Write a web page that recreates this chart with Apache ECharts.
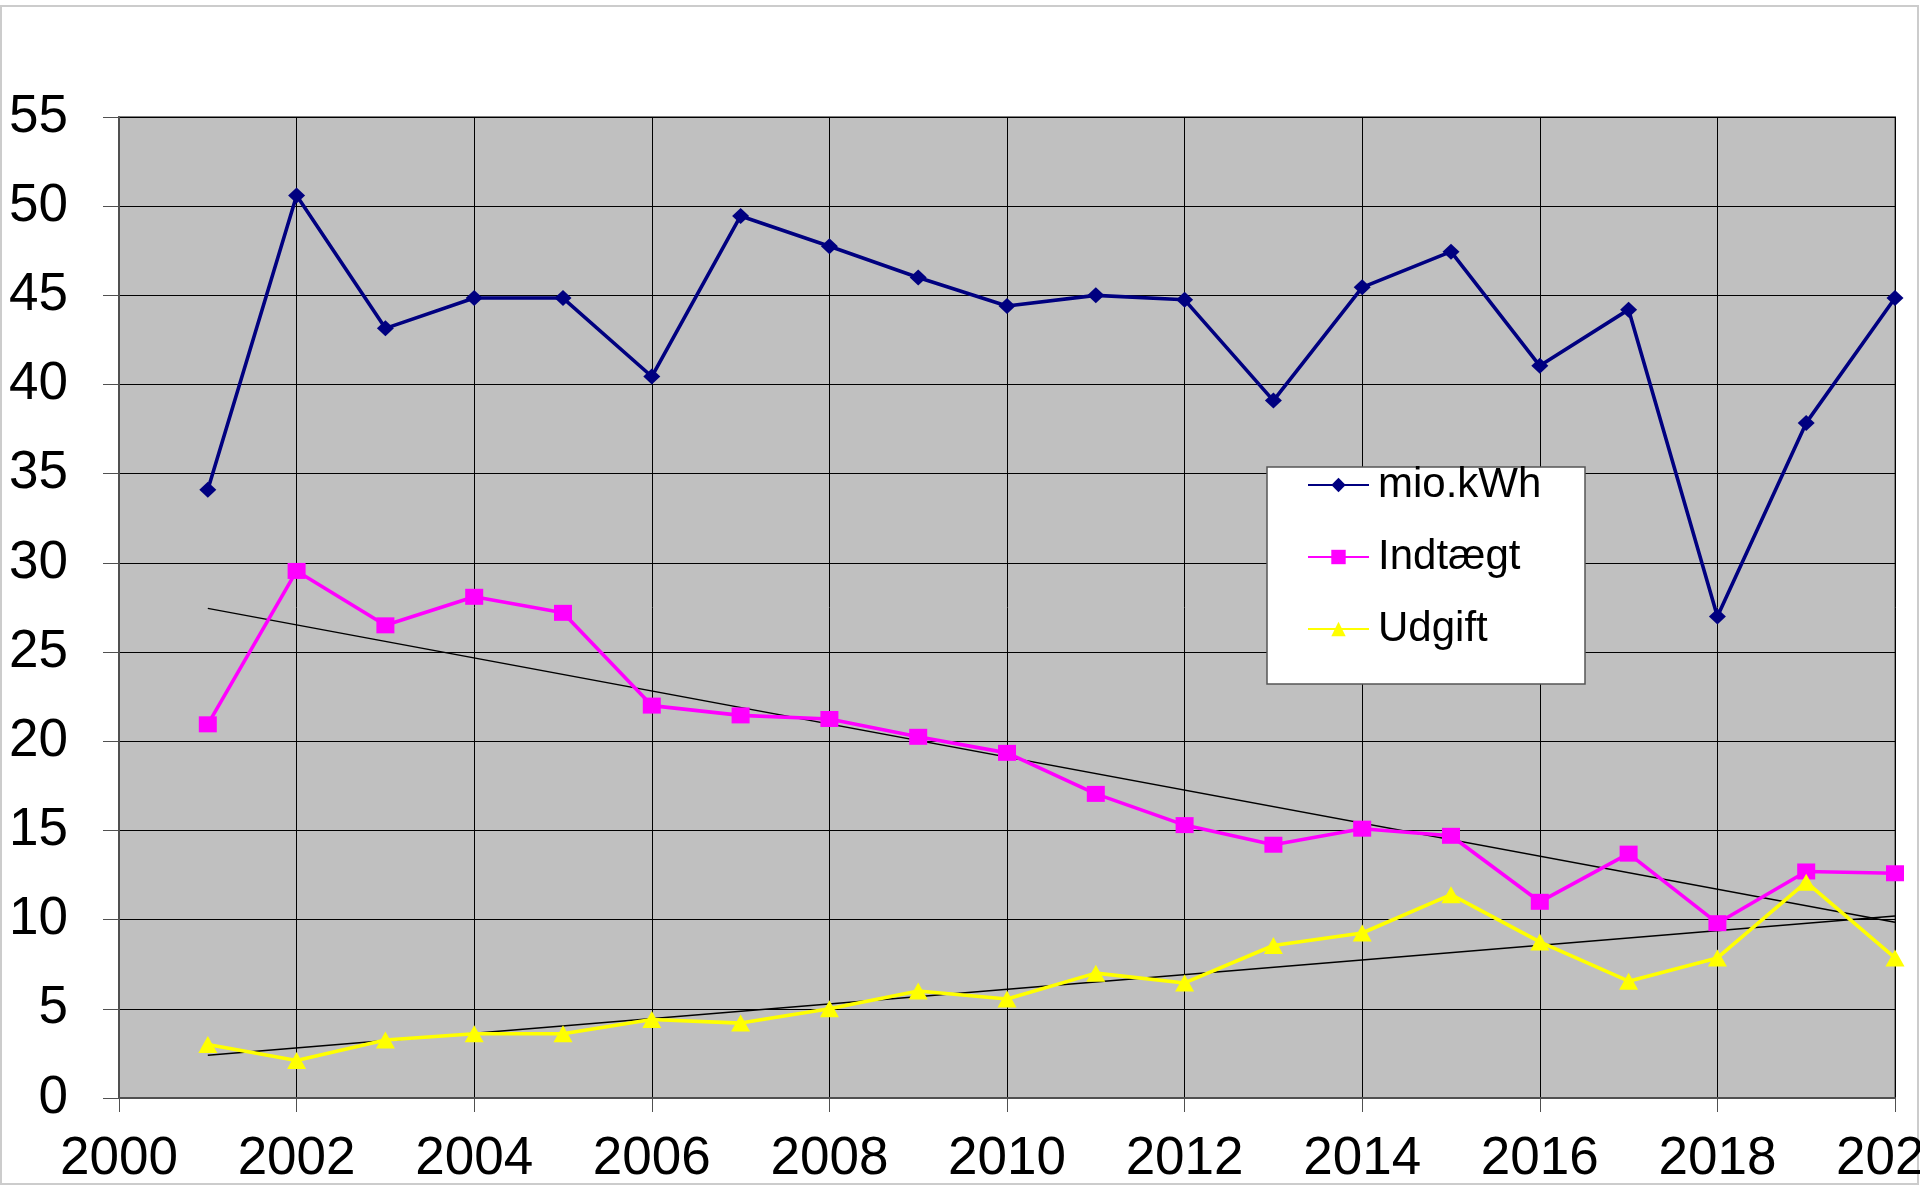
<!DOCTYPE html>
<html>
<head>
<meta charset="utf-8">
<script src="https://cdn.jsdelivr.net/npm/echarts@6/dist/echarts.min.js"></script>
<style>
html,body{margin:0;padding:0;background:#fff;}
#main{width:1920px;height:1187px;}
</style>
</head>
<body>
<div id="main"></div>
<script>
const years = [2001,2002,2003,2004,2005,2006,2007,2008,2009,2010,2011,2012,2013,2014,2015,2016,2017,2018,2019,2020];
const kwh = [34.1,50.6,43.15,44.85,44.85,40.45,49.45,47.75,46.0,44.4,45.0,44.75,39.1,45.45,47.45,41.05,44.2,27.0,37.85,44.85];
const indtaegt = [20.95,29.55,26.5,28.1,27.2,22.0,21.45,21.25,20.25,19.35,17.05,15.3,14.2,15.1,14.7,11.0,13.7,9.8,12.7,12.6];
const udgift = [3.0,2.1,3.25,3.6,3.6,4.4,4.2,5.0,6.0,5.55,7.0,6.45,8.55,9.25,11.4,8.75,6.55,7.85,12.1,7.85];
const trendYears = [2001, 2020];
const trendIndtaegt = [27.45, 9.85];
const trendUdgift = [2.4, 10.2];
const seriesNames = ['mio.kWh', 'Indtægt', 'Udgift'];

const pair = (xs, ys) => xs.map((x, i) => [x, ys[i]]);
const FONT = '"Liberation Sans", Arial, sans-serif';

const chart = echarts.init(document.getElementById('main'), null, {renderer: 'canvas'});
chart.setOption({
  animation: false,
  backgroundColor: '#ffffff',
  textStyle: {fontFamily: FONT},
  grid: {
    left: 119, right: 25, top: 117, bottom: 89,
    outerBoundsMode: 'none', containLabel: false,
    show: true, backgroundColor: '#C0C0C0', borderColor: '#808080', borderWidth: 2
  },
  graphic: [
    {type: 'rect', z: 0, silent: true, shape: {x: 1, y: 6, width: 1917, height: 1178},
     style: {fill: 'none', stroke: '#cccccc', lineWidth: 2}},
    {type: 'rect', z: 3, silent: true, shape: {x: 1267, y: 467, width: 318, height: 217},
     style: {fill: '#ffffff', stroke: '#555555', lineWidth: 1.5}}
  ],
  legend: {
    data: seriesNames,
    orient: 'vertical',
    left: 1307, top: 464,
    padding: 0,
    itemWidth: 61, itemHeight: 18,
    itemGap: 30,
    z: 5,
    textStyle: {fontFamily: FONT, fontSize: 42, color: '#000', lineHeight: 42, padding: [0,0,0,4]}
  },
  xAxis: {
    type: 'value', min: 2000, max: 2020, interval: 2,
    axisLine: {show: true, onZero: false, lineStyle: {color: '#505050', width: 2}},
    axisTick: {show: true, length: 14, lineStyle: {color: '#505050', width: 1}},
    axisLabel: {fontSize: 53, color: '#000', margin: 35, fontFamily: FONT,
      formatter: v => String(v)},
    splitLine: {show: true, lineStyle: {color: '#000', width: 1}}
  },
  yAxis: {
    type: 'value', min: 0, max: 55, interval: 5,
    axisLine: {show: true, lineStyle: {color: '#505050', width: 2}},
    axisTick: {show: true, length: 16, lineStyle: {color: '#505050', width: 1}},
    axisLabel: {fontSize: 53, color: '#000', margin: 51, fontFamily: FONT},
    splitLine: {show: true, lineStyle: {color: '#000', width: 1}}
  },
  series: [
    {name: 'trend1', type: 'line', data: pair(trendYears, trendIndtaegt), symbol: 'none',
     lineStyle: {color: '#000', width: 1.4}, z: 1, silent: true},
    {name: 'trend2', type: 'line', data: pair(trendYears, trendUdgift), symbol: 'none',
     lineStyle: {color: '#000', width: 1.4}, z: 1, silent: true},
    {name: seriesNames[0], type: 'line', data: pair(years, kwh), symbol: 'diamond', symbolSize: [17, 16],
     lineStyle: {color: '#000080', width: 3.6}, itemStyle: {color: '#000080'}, z: 2},
    {name: seriesNames[1], type: 'line', data: pair(years, indtaegt), symbol: 'rect', symbolSize: [18, 16],
     lineStyle: {color: '#FF00FF', width: 3.6}, itemStyle: {color: '#FF00FF'}, z: 2},
    {name: seriesNames[2], type: 'line', data: pair(years, udgift), symbol: 'triangle', symbolSize: [19, 17],
     lineStyle: {color: '#FFFF00', width: 3.6}, itemStyle: {color: '#FFFF00'}, z: 2}
  ]
});
</script>
</body>
</html>
